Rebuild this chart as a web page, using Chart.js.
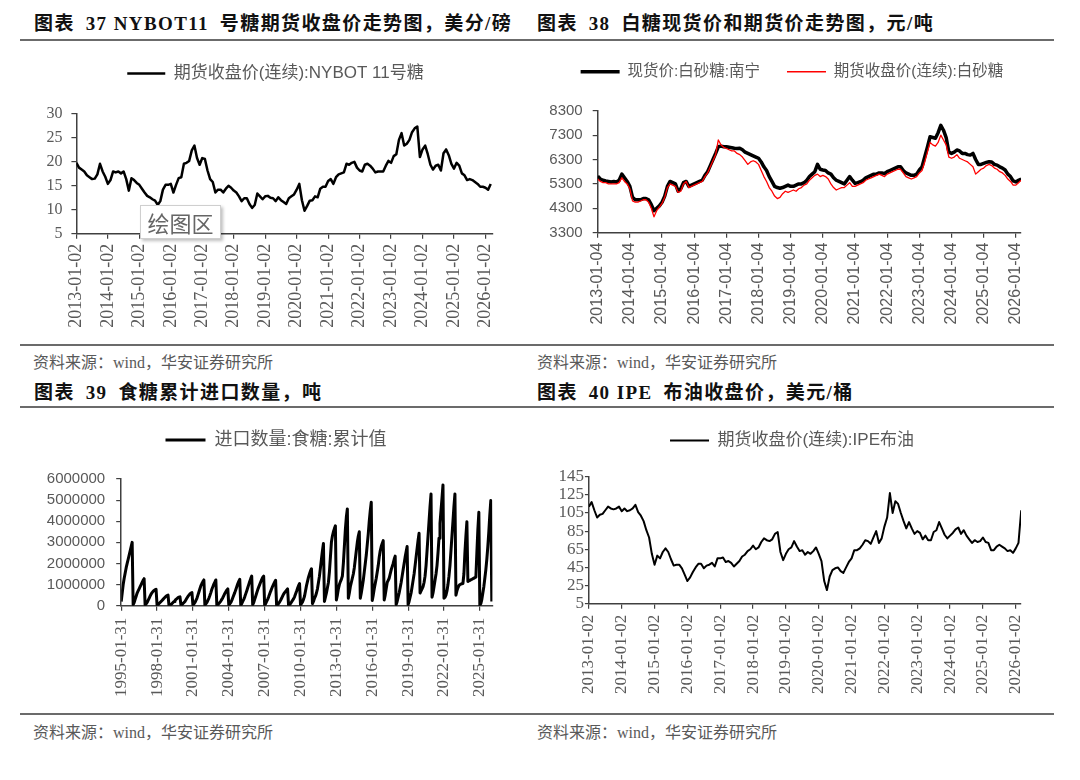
<!DOCTYPE html>
<html>
<head>
<meta charset="utf-8">
<script src="https://cdn.jsdelivr.net/npm/chart.js@4.4.1/dist/chart.umd.min.js"></script>
<style>
  html, body { margin: 0; padding: 0; background: #fff; }
  body { width: 1080px; height: 780px; position: relative; overflow: hidden;
         font-family: "Liberation Serif", "Noto Sans CJK SC", serif; }
  .title { position: absolute; font-weight: bold; font-size: 19px; letter-spacing: 1.4px;
           color: #111; line-height: 1; white-space: nowrap; }
  .src { position: absolute; font-size: 16px; color: #595959; line-height: 1; white-space: nowrap; }
  .rule { position: absolute; left: 20px; width: 1034px; height: 2px; background: #6b6b6b; }
  canvas { position: absolute; }
  .tip { position: absolute; left: 140px; top: 205px; width: 81px; height: 34px; box-sizing: border-box;
         background: #fff; border: 1px solid #cfcfcf; box-shadow: 2px 2px 3px rgba(0,0,0,.25);
         font: 22px "Noto Sans CJK SC", sans-serif; color: #666; text-align: center; line-height: 32px;
         z-index: 5; }
</style>
</head>
<body>

<div class="title" style="left:34px;top:14px">图表&ensp;37 NYBOT11&ensp;号糖期货收盘价走势图，美分/磅</div>
<div class="title" style="left:537px;top:14px">图表&ensp;38&ensp;白糖现货价和期货价走势图，元/吨</div>
<div class="rule" style="top:39px"></div>

<div class="rule" style="top:344px"></div>
<div class="src" style="left:33px;top:355px">资料来源：wind，华安证券研究所</div>
<div class="src" style="left:537px;top:355px">资料来源：wind，华安证券研究所</div>
<div class="title" style="left:34px;top:383px">图表&ensp;39&ensp;食糖累计进口数量，吨</div>
<div class="title" style="left:537px;top:383px">图表&ensp;40 IPE&ensp;布油收盘价，美元/桶</div>
<div class="rule" style="top:406px"></div>

<div class="rule" style="top:713px"></div>
<div class="src" style="left:33px;top:725px">资料来源：wind，华安证券研究所</div>
<div class="src" style="left:537px;top:725px">资料来源：wind，华安证券研究所</div>

<canvas id="c1" width="530" height="290" style="left:0;top:55px"></canvas>
<canvas id="c2" width="550" height="303" style="left:520px;top:37px"></canvas>
<canvas id="c3" width="530" height="289" style="left:0;top:421px"></canvas>
<canvas id="c4" width="540" height="288" style="left:530px;top:422px"></canvas>
<div class="tip">绘图区</div>

<script>
// ── data (monthly readings, first value = January of start year) ──
const sugar11Start = 2013;
const sugar11 = [
  19.8, 18.8, 18.4, 18.0, 17.2, 16.8, 16.4, 16.5, 17.4, 19.6, 18.0, 16.9,
  15.4, 16.2, 18.0, 17.8, 18.0, 17.6, 18.0, 16.4, 14.0, 16.6, 16.2, 15.6,
  15.2, 14.4, 13.6, 12.9, 12.6, 12.2, 11.9, 11.0, 11.8, 14.2, 15.2, 15.2,
  15.4, 13.6, 15.2, 16.6, 16.8, 19.6, 19.8, 20.2, 22.4, 23.4, 20.8, 19.4,
  20.8, 20.6, 18.2, 16.4, 15.8, 13.6, 14.2, 14.2, 13.6, 14.4, 15.0, 14.6,
  14.0, 13.6, 12.8, 11.8, 12.4, 12.4, 11.2, 10.4, 11.0, 13.4, 12.8, 12.2,
  12.8, 12.9, 12.5, 12.4, 11.8, 12.6, 12.0, 11.6, 11.2, 12.4, 12.8, 13.2,
  14.2, 15.4, 12.0, 9.8, 10.8, 11.9, 12.0, 12.8, 12.6, 14.4, 14.8, 14.8,
  16.0, 16.4, 15.4, 16.8, 17.4, 17.6, 17.8, 19.6, 19.4, 19.8, 20.0, 18.8,
  18.2, 18.0, 19.4, 19.6, 19.2, 18.6, 17.8, 18.0, 18.0, 18.0, 19.2, 20.2,
  19.8, 21.2, 21.6, 24.6, 26.0, 23.4, 23.8, 24.6, 26.2, 27.0, 27.4, 21.0,
  22.6, 23.4, 21.6, 19.4, 18.4, 19.2, 19.4, 18.2, 21.8, 22.6, 21.4, 19.6,
  18.6, 19.8, 19.2, 17.6, 17.2, 16.2, 16.4, 16.2, 15.8, 15.4, 14.8, 14.8,
  14.6, 14.2, 15.4
];

const sugarCnStart = 2013;
const spotNanning = [
  5620, 5500, 5450, 5420, 5400, 5380, 5400, 5380, 5450, 5700, 5550, 5400,
  5200, 4750, 4650, 4650, 4650, 4700, 4700, 4650, 4450, 4200, 4300, 4400,
  4550, 4800, 5200, 5400, 5350, 5300, 5000, 5100, 5350, 5400, 5200, 5250,
  5300, 5350, 5400, 5450, 5650, 5800, 6050, 6300, 6550, 6820, 6850, 6820,
  6820, 6800, 6780, 6760, 6750, 6760, 6700, 6600, 6550, 6500, 6450, 6400,
  6350, 6200, 6000, 5850, 5600, 5400, 5200, 5150, 5120, 5150, 5200, 5250,
  5200, 5200, 5250, 5300, 5300, 5350, 5450, 5600, 5700, 5800, 6100, 5900,
  5870, 5850, 5750, 5700, 5550, 5450, 5400, 5350, 5300, 5450, 5600, 5450,
  5320, 5350, 5390, 5450, 5550, 5600, 5650, 5700, 5700, 5750, 5750, 5720,
  5800, 5850, 5900, 5950, 6000, 6000, 5850, 5750, 5700, 5650, 5650, 5700,
  5870, 6000, 6400, 6800, 7230, 7200, 7170, 7400, 7700, 7500, 7200, 6600,
  6550, 6600, 6690, 6650, 6550, 6550, 6500, 6480, 6550, 6300, 6100, 6100,
  6140, 6180, 6210, 6200, 6100, 6070, 6000, 5950, 5870, 5700, 5600, 5420,
  5380, 5450, 5500
];
const futuresCn = [
  5500, 5400, 5350, 5350, 5300, 5300, 5300, 5300, 5350, 5550, 5400, 5300,
  5100, 4600, 4550, 4550, 4600, 4650, 4650, 4550, 4300, 3950, 4200, 4350,
  4500, 4750, 5150, 5300, 5250, 5200, 4950, 5000, 5300, 5400, 5150, 5200,
  5250, 5300, 5350, 5400, 5600, 5750, 6000, 6250, 6500, 7100, 6900, 6800,
  6750, 6700, 6650, 6650, 6550, 6500, 6400, 6250, 6100, 6200, 6250, 6200,
  6100, 5850, 5600, 5400, 5150, 5000, 4800, 4700, 4750, 4900, 5000, 4950,
  5000, 5050, 5000, 5100, 5150, 5250, 5300, 5450, 5550, 5650, 5700, 5600,
  5650, 5600, 5500, 5300, 5150, 5050, 5100, 5150, 5150, 5250, 5350, 5200,
  5200, 5250, 5300, 5350, 5450, 5500, 5550, 5600, 5650, 5700, 5650, 5600,
  5700, 5750, 5800, 5850, 5900, 5900, 5750, 5600, 5550, 5500, 5550, 5600,
  5750, 5850, 6200, 6600, 7000, 6900, 6850, 7000, 7300, 7100, 6900, 6400,
  6350, 6400, 6500, 6350, 6300, 6250, 6200, 6100, 6000, 5700, 5800, 5900,
  5950, 6050, 6100, 6050, 5950, 5900, 5800, 5750, 5650, 5500, 5400, 5250,
  5250, 5350, 5450
];

// cumulative imports, 万吨, Jan..Dec per row
const importStart = 1995;
const importCumWan = [
  20, 60, 100, 130, 155, 180, 200, 220, 240, 260, 280, 300,
  5, 15, 30, 45, 60, 70, 80, 90, 100, 110, 120, 128,
  3, 8, 15, 25, 35, 45, 55, 62, 68, 72, 75, 78,
  2, 5, 10, 15, 20, 25, 30, 35, 40, 45, 48, 50,
  1, 3, 6, 10, 15, 20, 25, 30, 34, 38, 40, 42,
  2, 5, 10, 15, 20, 28, 36, 44, 50, 56, 60, 62,
  3, 8, 15, 25, 35, 50, 65, 80, 95, 105, 114, 122,
  3, 8, 15, 25, 35, 48, 62, 78, 90, 102, 112, 122,
  2, 5, 10, 16, 22, 30, 38, 48, 58, 66, 74, 80,
  3, 8, 15, 25, 38, 50, 62, 76, 90, 104, 115, 125,
  3, 10, 20, 30, 42, 56, 70, 85, 100, 115, 128, 140,
  5, 15, 30, 45, 60, 75, 88, 100, 112, 124, 134, 140,
  3, 10, 20, 30, 42, 55, 68, 80, 92, 102, 112, 120,
  2, 5, 10, 18, 26, 35, 45, 55, 62, 68, 74, 80,
  2, 5, 10, 18, 25, 32, 42, 55, 68, 82, 95, 105,
  4, 10, 18, 30, 45, 70, 95, 115, 135, 150, 165, 175,
  10, 20, 35, 45, 60, 80, 110, 140, 180, 220, 260, 295,
  20, 40, 60, 85, 110, 160, 230, 300, 330, 350, 365, 378,
  27, 50, 80, 100, 114, 125, 140, 200, 280, 360, 420, 458,
  35, 60, 90, 110, 130, 150, 180, 220, 260, 300, 330, 350,
  35, 60, 90, 120, 160, 200, 240, 290, 340, 400, 450, 490,
  25, 50, 80, 105, 130, 160, 190, 230, 260, 280, 295, 308,
  27, 50, 80, 110, 120, 130, 150, 170, 185, 200, 220, 235,
  5, 20, 40, 60, 85, 110, 140, 170, 200, 230, 255, 280,
  5, 20, 40, 60, 90, 120, 150, 190, 230, 270, 310, 343,
  60, 70, 80, 90, 110, 140, 190, 260, 330, 400, 470, 529,
  40, 60, 90, 120, 150, 190, 250, 320, 390, 450, 510, 572,
  35, 40, 50, 70, 100, 140, 190, 260, 330, 400, 470, 529,
  50, 70, 85, 95, 100, 102, 104, 105, 150, 250, 330, 398,
  115, 118, 120, 123, 125, 128, 130, 133, 135, 250, 360, 442,
  2, 10, 30, 60, 90, 130, 170, 220, 280, 350, 430, 498,
  20
];

const brentStart = 2013;
const brent = [
  112, 117, 108, 100, 103, 104, 108, 112, 110, 109, 110, 112,
  107, 110, 107, 108, 110, 114, 106, 102, 96, 86, 78, 60,
  48, 58, 55, 62, 66, 62, 54, 47, 48, 48, 44, 37,
  30, 34, 40, 45, 49, 49, 44, 47, 48, 50, 46, 55,
  55, 56, 51, 52, 50, 46, 49, 52, 57, 59, 63, 65,
  69, 65, 67, 73, 77, 75, 74, 76, 82, 84, 62, 53,
  60, 65, 67, 74, 68, 63, 64, 59, 62, 60, 63, 67,
  60, 52, 30, 20, 35, 42, 44, 45, 41, 39, 45, 51,
  55, 64, 64, 66, 70, 75, 74, 71, 78, 85, 72, 77,
  90, 100, 127, 105, 118, 115, 105, 96, 88, 95, 88, 82,
  85, 83, 76, 80, 75, 75, 84, 86, 95, 88, 81, 77,
  80, 83, 87, 89, 82, 86, 80, 76, 72, 75, 73, 74,
  78, 73, 72, 64, 64, 68, 70, 68, 66, 63, 64, 61,
  66, 72, 108
];

// x-axis ticks
const years13 = [2013, 2014, 2015, 2016, 2017, 2018, 2019, 2020, 2021, 2022, 2023, 2024, 2025, 2026];
const labels0102 = years13.map(y => y + '-01-02');
const labels0104 = years13.map(y => y + '-01-04');
const importYears = [1995, 1998, 2001, 2004, 2007, 2010, 2013, 2016, 2019, 2022, 2025];
const importLabels = importYears.map(y => y + '-01-31');

// ── helpers ─────────────────────────────────────────────────
const AXIS = '#404040', TXT = '#595959';
const SERIF = '"Liberation Serif", "Times New Roman", serif';
const SANS = '"Liberation Sans", "Noto Sans CJK SC", sans-serif';

const monthly = (vals, start, k = 1) => vals.map((v, i) => ({ x: start + i / 12, y: v * k }));

// fixed legend height, legend row centred on cx (canvas px)
function legendBox(h, cx) {
  return {
    id: 'legendBox',
    beforeInit(chart) {
      const fit = chart.legend.fit;
      chart.legend.fit = function () { fit.call(this); this.height = h; };
    },
    afterLayout(chart) {
      const lg = chart.legend, half = (lg.right - lg.left) / 2;
      lg.left = cx - half; lg.right = cx + half;
    },
  };
}

function xAxis(min, max, ticks, labels, font, h, pad) {
  return {
    type: 'linear', min, max,
    afterBuildTicks: s => { s.ticks = ticks.map(v => ({ value: v })); },
    afterFit: s => { s.height = h; },
    ticks: { autoSkip: false, minRotation: 90, maxRotation: 90, padding: pad, color: TXT, font,
             callback: (v, i) => labels[i] },
    grid: { drawOnChartArea: false, drawTicks: true, tickLength: 5, color: AXIS, lineWidth: 1.2 },
    border: { color: AXIS, width: 1.5 },
  };
}

function yAxis(min, max, step, w, font, pad, tl) {
  return {
    min, max,
    afterFit: s => { s.width = w; },
    ticks: { stepSize: step, autoSkip: false, padding: pad, color: TXT, font, callback: v => String(v) },
    grid: { drawOnChartArea: false, drawTicks: true, tickLength: tl, color: AXIS, lineWidth: 1.2 },
    border: { color: AXIS, width: 1.5 },
  };
}

function lineChart(id, c) {
  return new Chart(document.getElementById(id), {
    type: 'line',
    data: { datasets: c.datasets },
    options: {
      responsive: false, animation: false, devicePixelRatio: 1,
      layout: { padding: { left: 0, top: 0, bottom: 0, right: c.right } },
      elements: { point: { radius: 0 }, line: { tension: 0, borderJoinStyle: 'round' } },
      plugins: {
        tooltip: { enabled: false },
        legend: {
          labels: {
            usePointStyle: true, pointStyle: 'line', pointStyleWidth: c.boxW,
            padding: c.legPad, color: TXT, font: { family: SANS, size: c.legSize },
            sort: (a, b) => a.datasetIndex - b.datasetIndex,
          },
        },
      },
      scales: { x: c.x, y: c.y },
    },
    plugins: [legendBox(c.legH, c.legX)],
  });
}

// ── 图表37 NYBOT11 ───────────────────────────────────────────
lineChart('c1', {
  datasets: [{ label: '期货收盘价(连续):NYBOT 11号糖', data: monthly(sugar11, sugar11Start),
               borderColor: '#000', borderWidth: 2.5, pointBorderWidth: 2.5 }],
  right: 37.6, legH: 59, legX: 275.5, legPad: 10, legSize: 17, boxW: 38,
  x: xAxis(2013, 2026.22, years13, labels0102, { family: SERIF, size: 18 }, 111.3, 5),
  y: yAxis(5, 30, 5, 76.4, { family: SERIF, size: 16 }, 9, 5),
});

// ── 图表38 白糖现货/期货 ─────────────────────────────────────
lineChart('c2', {
  datasets: [
    { label: '现货价:白砂糖:南宁', data: monthly(spotNanning, sugarCnStart),
      borderColor: '#000', borderWidth: 3.5, pointBorderWidth: 3.5, order: 1 },
    { label: '期货收盘价(连续):白砂糖', data: monthly(futuresCn, sugarCnStart),
      borderColor: '#ff0000', borderWidth: 1.3, pointBorderWidth: 1.3, order: 0 },
  ],
  right: 49, legH: 73.7, legX: 272, legPad: 27, legSize: 15.5, boxW: 39,
  x: xAxis(2013, 2026.16, years13, labels0104, { family: SANS, size: 16 }, 107.3, 5),
  y: yAxis(3300, 8300, 1000, 77.7, { family: SANS, size: 15 }, 10, 5),
});

// ── 图表39 食糖累计进口 ──────────────────────────────────────
lineChart('c3', {
  datasets: [{ label: '进口数量:食糖:累计值', data: monthly(importCumWan, importStart, 10000),
               borderColor: '#000', borderWidth: 3, pointBorderWidth: 3 }],
  right: 37.6, legH: 58, legX: 276, legPad: 10, legSize: 18, boxW: 40,
  x: xAxis(1995, 2026.05, importYears, importLabels, { family: SERIF, size: 17 }, 104.3, 7),
  y: yAxis(0, 6000000, 1000000, 121.2, { family: SANS, size: 15 }, 11, 5),
});

// ── 图表40 IPE 布油 ──────────────────────────────────────────
lineChart('c4', {
  datasets: [{ label: '期货收盘价(连续):IPE布油', data: monthly(brent, brentStart),
               borderColor: '#000', borderWidth: 2, pointBorderWidth: 2 }],
  right: 49, legH: 54.7, legX: 262, legPad: 10, legSize: 17, boxW: 39,
  x: xAxis(2013, 2026.16, years13, labels0102, { family: SERIF, size: 17 }, 106.3, 6),
  y: yAxis(5, 145, 20, 58.9, { family: SERIF, size: 17 }, 1, 4),
});
</script>
</body>
</html>
